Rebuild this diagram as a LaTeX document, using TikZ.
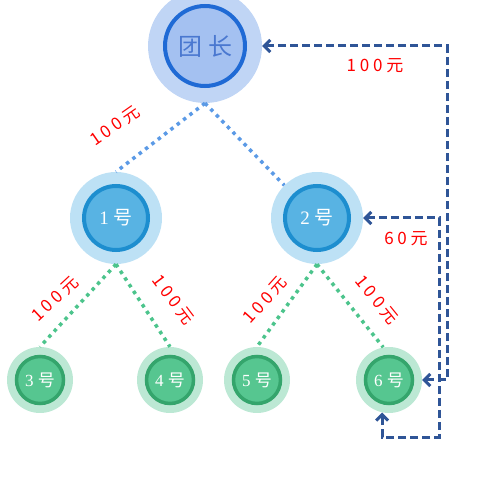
\documentclass[tikz,border=0pt]{standalone}
\usepackage{fontspec}
\setmainfont{Liberation Serif}
\newfontfamily\cjk{Noto Sans CJK SC}
\newfontfamily\lblfont{Noto Sans CJK SC}[LetterSpace=22]
\usetikzlibrary{arrows.meta}
\definecolor{bossHalo}{HTML}{C0D5F5}
\definecolor{bossFill}{HTML}{A4C1F1}
\definecolor{bossRing}{HTML}{1F6AD5}
\definecolor{bossText}{HTML}{4A78D0}
\definecolor{midHalo}{HTML}{BDE1F5}
\definecolor{midFill}{HTML}{58B3E3}
\definecolor{midRing}{HTML}{1D8ECF}
\definecolor{leafHalo}{HTML}{BCE8D4}
\definecolor{leafFill}{HTML}{56C690}
\definecolor{leafRing}{HTML}{34A56C}
\definecolor{tieBlue}{HTML}{5B9AE6}
\definecolor{tieGreen}{HTML}{4CC48C}
\definecolor{payBlue}{HTML}{2F5597}
\tikzset{
  boss/.style  = {circle, inner sep=0pt, minimum size=114pt, fill=bossHalo,
                  path picture={\draw[draw=bossRing, fill=bossFill, line width=4pt]
                    (path picture bounding box.center) circle (40pt);},
                  font=\cjk\fontsize{24}{24}\selectfont, text=bossText},
  mid/.style   = {circle, inner sep=0pt, minimum size=92pt, fill=midHalo,
                  path picture={\draw[draw=midRing, fill=midFill, line width=4pt]
                    (path picture bounding box.center) circle (32pt);},
                  font=\fontsize{19}{19}\selectfont, text=white},
  leaf/.style  = {circle, inner sep=0pt, minimum size=66pt, fill=leafHalo,
                  path picture={\draw[draw=leafRing, fill=leafFill, line width=3.5pt]
                    (path picture bounding box.center) circle (23.5pt);},
                  font=\fontsize{17}{17}\selectfont, text=white},
  tie/.style   = {line width=3.5pt, dash pattern=on 3.5pt off 4.5pt},
  pay/.style   = {{Straight Barb[length=6pt,width=12pt]}-{Straight Barb[length=6pt,width=12pt]},
                  draw=payBlue, line width=3pt, dash pattern=on 8pt off 4pt},
  money/.style = {font=\lblfont\fontsize{17}{17}\selectfont, text=red, inner sep=1pt}
}
\begin{document}
\begin{tikzpicture}[x=1pt, y=-1pt]
\useasboundingbox (0,0) rectangle (504,481);
% ---- members ----
\node[boss] (top) at (205,46) {团\hspace{6pt}长};
\node[mid]  (n1)  at (116,218) {1 {\cjk 号}};
\node[mid]  (n2)  at (317,218) {2 {\cjk 号}};
\foreach \lx/\nm in {40/3, 170/4, 257/5, 389/6}
  \node[leaf] (n\nm) at (\lx,380) {\nm\ {\cjk 号}};

% ---- team ties ----
\draw[tie, draw=tieBlue] (top.south) -- (n1.north);
\draw[tie, draw=tieBlue] (top.south) -- (n2.north west);
\draw[tie, draw=tieGreen] (n1.south) -- (n3.north);
\draw[tie, draw=tieGreen] (n1.south) -- (n4.north);
\draw[tie, draw=tieGreen] (n2.south) -- (n5.north);
\draw[tie, draw=tieGreen] (n2.south) -- (n6.100);

% ---- amounts on ties ----
\foreach \px/\py/\ang [count=\k] in {115/126/35, 55/299/43, 173/300/-53,
                                     265/300/48, 377/300/-51}
  \node[money, rotate=\ang] (lab\k) at (\px,\py) {100元};

% ---- payments ----
\coordinate (outerTop) at (447,46);
\coordinate (innerBot) at (439,437);
\draw[pay] (n6.east) -| (outerTop) -- (top.east);
\draw[pay] (n2.east) -| (innerBot) -| (n6.258);
\node[money] (payTop) at (375,66) {100元};
\node[money] (payMid) at (406,239) {60元};
\end{tikzpicture}
\end{document}
